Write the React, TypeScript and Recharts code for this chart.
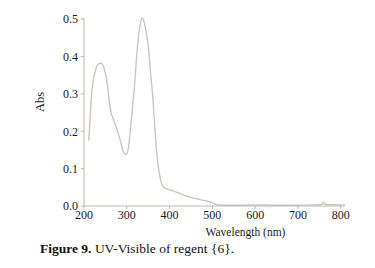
import { LineChart, Line, XAxis, YAxis } from 'recharts'

// wavelength (nm) and absorbance
const wavelengths = [
  211, 214, 217, 221, 226, 232, 239, 245, 250, 255, 259, 263, 268, 274, 280,
  286, 291, 297, 303, 308, 313, 318, 323, 328, 332, 336, 341, 346, 351, 356,
  361, 366, 372, 378, 386, 395, 410, 425, 440, 460, 480, 495, 510, 530, 560,
  600, 650, 700, 740, 756, 760, 764, 800, 810,
]
const absorbance = [
  0.175, 0.23, 0.29, 0.33, 0.36, 0.378, 0.382, 0.375, 0.355, 0.32, 0.28, 0.25,
  0.235, 0.215, 0.195, 0.17, 0.148, 0.138, 0.15, 0.2, 0.26, 0.32, 0.4, 0.46,
  0.49, 0.503, 0.49, 0.46, 0.42, 0.35, 0.29, 0.2, 0.12, 0.075, 0.05, 0.045,
  0.04, 0.033, 0.026, 0.02, 0.015, 0.011, 0.004, 0.002, 0.002, 0.003, 0.002,
  0.002, 0.003, 0.004, 0.011, 0.004, 0.003, 0.003,
]
const xTicks = [200, 300, 400, 500, 600, 700, 800]
const yTicks = [0, 0.1, 0.2, 0.3, 0.4, 0.5]

const data = wavelengths.map((w, i) => ({ w, abs: absorbance[i] }))

const axisColor = '#c2b8a6'
const font = 'Liberation Serif, Times New Roman, Times, serif'

export default function App() {
  return (
    <div style={{ position: 'absolute', left: 0, top: 0, width: 375, height: 268, background: '#fff', fontFamily: font }}>
      <LineChart
        width={375}
        height={268}
        data={data}
        margin={{ top: 18, right: 30, bottom: 32, left: 0 }}
        style={{ fontFamily: font }}
      >
        <XAxis
          dataKey="w"
          type="number"
          domain={[200, 810]}
          ticks={xTicks}
          stroke={axisColor}
          tickSize={3}
          tickMargin={1}
          height={30}
          tick={{ fill: '#1a1a1a', fontSize: 12, fontFamily: font }}
          label={{
            value: 'Wavelength (nm)',
            position: 'insideBottom',
            offset: 0,
            dx: 31,
            fill: '#1a1a1a',
            fontSize: 11.5,
            fontFamily: font,
          }}
        />
        <YAxis
          type="number"
          domain={[0, 0.5]}
          ticks={yTicks}
          width={84}
          stroke={axisColor}
          tickSize={3}
          tickMargin={3}
          tickFormatter={(v: number) => v.toFixed(1)}
          tick={{ fill: '#1a1a1a', fontSize: 12, fontFamily: font }}
          label={{
            value: 'Abs',
            angle: -90,
            position: 'insideLeft',
            offset: 40,
            fill: '#1a1a1a',
            fontSize: 12.5,
            fontFamily: font,
          }}
        />
        <Line
          dataKey="abs"
          type="monotone"
          stroke="#cbc5bf"
          strokeWidth={1.4}
          dot={false}
          isAnimationActive={false}
        />
      </LineChart>
      <div
        style={{
          position: 'absolute',
          left: 40,
          top: 241,
          fontFamily: font,
          fontSize: 13.5,
          color: '#111',
          whiteSpace: 'nowrap',
        }}
      >
        <b>Figure 9.</b> UV-Visible of regent {'{6}'}.
      </div>
    </div>
  )
}
